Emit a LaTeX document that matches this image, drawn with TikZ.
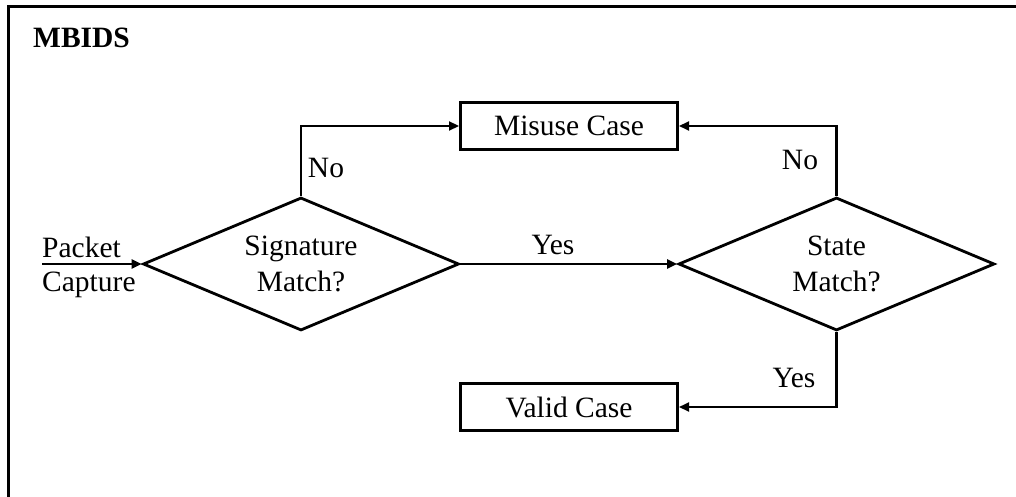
\documentclass[tikz,border=0pt]{standalone}
\usepackage{fontspec}
\setmainfont{Liberation Serif}
\usetikzlibrary{shapes.geometric,arrows.meta}
\begin{document}
\begin{tikzpicture}[x=1pt,y=-1pt,
  txt/.style={font=\fontsize{29.5}{36}\selectfont},
  dec/.style={diamond, shape aspect=2.37, draw, line width=2.8pt, inner sep=0pt, minimum width=316pt, minimum height=133pt, align=center, txt},
  box/.style={draw, line width=3pt, minimum width=217pt, minimum height=47pt, inner sep=0pt, txt},
  conn/.style={line width=2.2pt, -{Triangle[length=10pt,width=9pt]}},
  lab/.style={txt, inner sep=0pt}]
\useasboundingbox (0,0) rectangle (1016,497);
\begin{scope}
  \clip (0,0) rectangle (1016,497);
  \draw[line width=3pt] (8,530) -- (8,6.5) -- (1050,6.5);
\end{scope}
\node[anchor=base west, font=\bfseries\fontsize{29.5}{34}\selectfont, inner sep=0pt] (title) at (33,47.5) {MBIDS};

\node[dec] (sig) at (301,264) {Signature\\Match?};
\node[dec] (state) at (836.5,264) {State\\Match?};
\node[box] (mis) at (569,126) {Misuse Case};
\node[box] (val) at (569,407) {Valid Case};

\node[lab, anchor=base west] (pk) at (42,257) {Packet};
\node[lab, anchor=base west] (cap) at (42,291) {Capture};
\coordinate (in) at (42,264);

\draw[conn] (in) -- (sig.west);
\draw[conn] (sig.north) |- (mis.west);
\draw[conn] (state.north) |- (mis.east);
\draw[conn] (sig.east) -- (state.west);
\draw[conn] (state.south) |- (val.east);

\node[lab] (no1) at (326,168) {No};
\node[lab] (no2) at (800,160) {No};
\node[lab] (yes1) at (553,245) {Yes};
\node[lab] (yes2) at (794,378) {Yes};
\end{tikzpicture}
\end{document}
